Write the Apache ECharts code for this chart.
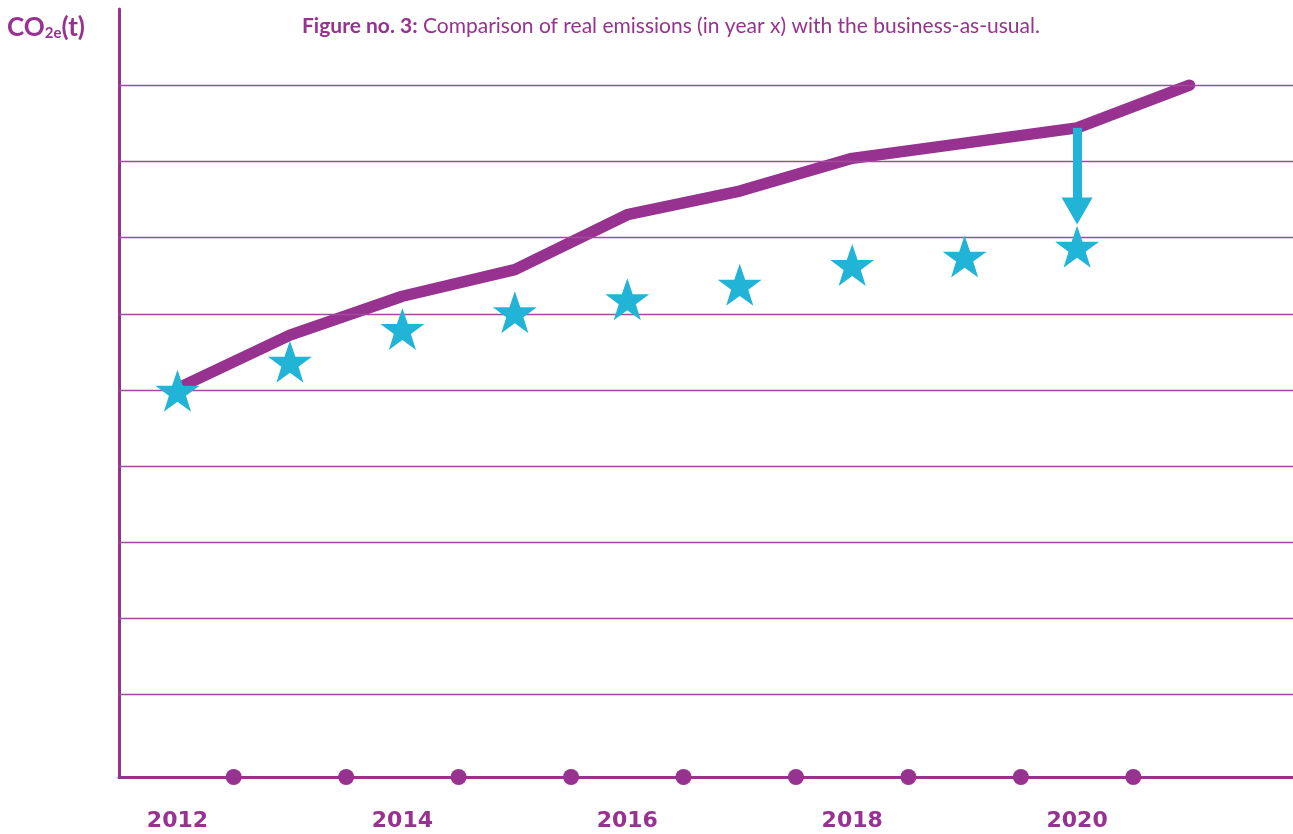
<!DOCTYPE html>
<html>
<head>
<meta charset="utf-8">
<script src="https://cdn.jsdelivr.net/npm/echarts@6/dist/echarts.min.js"></script>
<style>
  html, body { margin: 0; padding: 0; background: #ffffff; }
  #chart { width: 1293px; height: 834px; }
</style>
</head>
<body>
<div id="chart"></div>
<script>
// ---- data ----
var years = [2012, 2013, 2014, 2015, 2016, 2017, 2018, 2019, 2020, 2021];
var businessAsUsual = [5.02, 5.72, 6.23, 6.58, 7.30, 7.61, 8.04, 8.24, 8.44, 9.00];
var realYears = [2012, 2013, 2014, 2015, 2016, 2017, 2018, 2019, 2020];
var realEmissions = [4.99, 5.37, 5.80, 6.02, 6.19, 6.38, 6.64, 6.75, 6.88];
var gridValues = [1, 2, 3, 4, 5, 6, 7, 8, 9];
var tickDots = [2012.5, 2013.5, 2014.5, 2015.5, 2016.5, 2017.5, 2018.5, 2019.5, 2020.5];
var labelYears = [2012, 2014, 2016, 2018, 2020];
var arrowYear = 2020;
var arrowFrom = 8.44;
var arrowTo = 7.35;

var titleBold = 'Figure no. 3:';
var titleRest = ' Comparison of real emissions (in year x) with the business-as-usual.';

// ---- styling ----
var PURPLE = '#973290';
var GRID = '#a24a9c';
var CYAN = '#22b4d6';
var Y_MIN = -0.08, Y_MAX = 10;
var X_MIN = 2011.48, X_MAX = 2021.92;
var STAR = 'path://M50,0 L61.8,34.5 L97.6,34.5 L68.5,55.9 L79.4,90.5 L50,69.1 L20.6,90.5 L31.5,55.9 L2.4,34.5 L38.2,34.5 Z';

var chart = echarts.init(document.getElementById('chart'), null, { renderer: 'canvas' });

var option = {
  animation: false,
  backgroundColor: '#ffffff',
  title: [
    {
      left: 297, top: 11,
      text: '{b|' + titleBold + '}{r|' + titleRest + '}',
      textStyle: {
        rich: {
          b: { fontFamily: 'Lato', fontWeight: 'bold', fontSize: 21, color: PURPLE },
          r: { fontFamily: 'Lato', fontWeight: 'normal', fontSize: 21, color: PURPLE }
        }
      }
    },
    {
      left: 2, top: 6,
      text: '{a|CO}{s|2e}{a|(t)}',
      textStyle: {
        rich: {
          a: { fontFamily: 'Lato', fontWeight: 'bold', fontSize: 26, color: PURPLE, lineHeight: 30, verticalAlign: 'bottom' },
          s: { fontFamily: 'Lato', fontWeight: 'bold', fontSize: 15, color: PURPLE, lineHeight: 11, verticalAlign: 'bottom' }
        }
      }
    }
  ],
  grid: { left: 119, right: 0, top: 9, bottom: 57, containLabel: false },
  xAxis: {
    type: 'value', min: X_MIN, max: X_MAX,
    splitLine: { show: false },
    axisTick: { show: false },
    axisLine: { show: true, onZero: false, lineStyle: { color: PURPLE, width: 3 } },
    axisLabel: {
      customValues: labelYears,
      formatter: function (v) { return String(Math.round(v)); },
      margin: 33,
      fontFamily: 'DejaVu Sans', fontWeight: 'bold', fontSize: 22, color: PURPLE
    }
  },
  yAxis: {
    type: 'value', min: Y_MIN, max: Y_MAX,
    splitLine: { show: false },
    axisTick: { show: false },
    axisLabel: { show: false },
    axisLine: { show: true, onZero: false, lineStyle: { color: PURPLE, width: 3 } }
  },
  series: [
    {
      name: 'grid',
      type: 'line',
      data: [],
      silent: true,
      z: 1,
      markLine: {
        silent: true,
        symbol: ['none', 'none'],
        label: { show: false },
        emphasis: { disabled: true },
        lineStyle: { color: GRID, width: 1.3, type: 'solid' },
        data: gridValues.map(function (v) { return { yAxis: v }; })
      }
    },
    {
      name: 'axis dots',
      type: 'scatter',
      symbol: 'circle',
      symbolSize: 16,
      clip: false,
      silent: true,
      z: 3,
      itemStyle: { color: PURPLE, opacity: 1 },
      data: tickDots.map(function (x) { return [x, Y_MIN]; })
    },
    {
      name: 'arrow',
      type: 'line',
      data: [],
      silent: true,
      z: 3,
      markLine: {
        silent: true,
        symbol: ['none', 'triangle'],
        symbolSize: [31, 27],
        label: { show: false },
        emphasis: { disabled: true },
        lineStyle: { color: CYAN, width: 9, type: 'solid', opacity: 1 },
        itemStyle: { color: CYAN },
        data: [[{ coord: [arrowYear, arrowFrom] }, { coord: [arrowYear, arrowTo] }]]
      }
    },
    {
      name: 'Business-as-usual',
      type: 'line',
      z: 4,
      silent: true,
      showSymbol: false,
      symbol: 'none',
      lineStyle: { color: PURPLE, width: 11.5, cap: 'round', join: 'round' },
      data: years.map(function (y, i) { return [y, businessAsUsual[i]]; })
    },
    {
      name: 'Real emissions',
      type: 'scatter',
      z: 5,
      silent: true,
      symbol: STAR,
      symbolSize: [44, 42],
      itemStyle: { color: CYAN, opacity: 1 },
      data: realYears.map(function (y, i) { return [y, realEmissions[i]]; })
    }
  ]
};

chart.setOption(option);
</script>
</body>
</html>
